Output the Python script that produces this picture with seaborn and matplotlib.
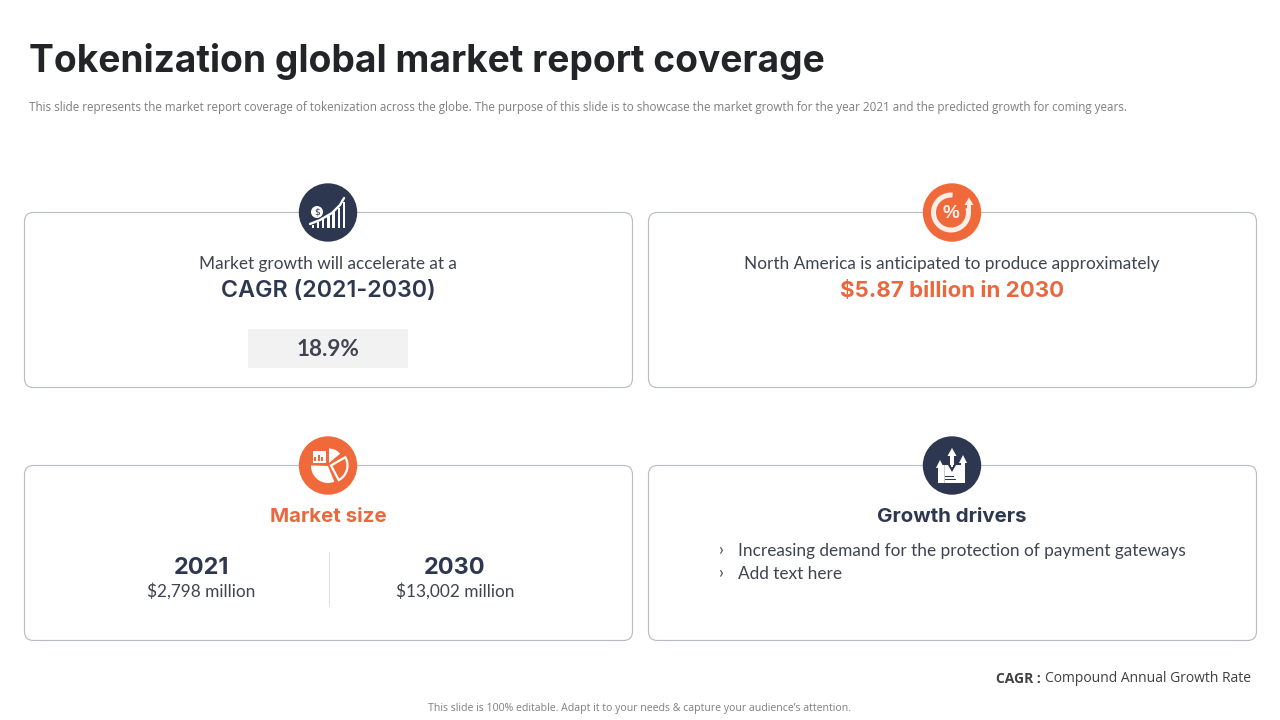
import matplotlib
matplotlib.use("Agg")
import matplotlib.pyplot as plt
from matplotlib.patches import FancyBboxPatch, Circle, Rectangle, Wedge, Polygon
import seaborn as sns

sns.set_theme(style="white")
plt.rcParams['font.family'] = ['Lato', 'DejaVu Sans']

NAVY = "#2D3850"
ORANGE = "#F0693A"
ORANGE_TXT = "#E8693F"
TXT = "#3F4450"
GREY = "#7F7F7F"
CREAM = "#FDEEE8"

title = "Tokenization global market report coverage"
subtitle = ("This slide represents the market report coverage of tokenization across the globe. "
            "The purpose of this slide is to showcase the market growth for the year 2021 and the predicted growth for coming years.")
growth_intro = "Market growth will accelerate at a"
growth_head = "CAGR (2021-2030)"
growth_value = "18.9%"
na_intro = "North America is anticipated to produce approximately"
na_head = "$5.87 billion in 2030"
size_head = "Market size"
years = ["2021", "2030"]
sizes = ["$2,798 million", "$13,002 million"]
drivers_head = "Growth drivers"
drivers = ["Increasing demand for the protection of payment gateways", "Add text here"]
foot_bold = "CAGR :"
foot_rest = "Compound Annual Growth Rate"
footer = "This slide is 100% editable. Adapt it to your needs & capture your audience\u2019s attention."
icon_bars = [3, 6, 9, 12, 16, 20, 26]

fig = plt.figure(figsize=(12.8, 7.2), dpi=100, facecolor="white")
ax = fig.add_axes([0, 0, 1, 1])
ax.set_xlim(0, 1280)
ax.set_ylim(720, 0)
ax.axis("off")

def txt(x, y, s, size, color=TXT, weight="normal", ha="center", family="Lato", **kw):
    return ax.text(x, y, s, fontsize=size * 0.72, color=color, fontweight=weight,
                   ha=ha, va="center", family=[family, "DejaVu Sans"], **kw)

# cards
for x, y in [(24.5, 212.5), (648.5, 212.5), (24.5, 465.5), (648.5, 465.5)]:
    ax.add_patch(FancyBboxPatch((x + 8, y + 8), 608 - 16, 175 - 16,
                                boxstyle="round,pad=8,rounding_size=9",
                                fc="white", ec="#BABDC1", lw=0.85, zorder=1))

# icon discs
centers = [(328, 212.5, NAVY), (952, 212.5, ORANGE), (328, 465.5, ORANGE), (952, 465.5, NAVY)]
for cx, cy, c in centers:
    ax.add_patch(Circle((cx, cy), 29.2, fc=c, ec="none", zorder=2))

# icon 1: growth bars
for i, h in enumerate(icon_bars):
    ax.add_patch(Rectangle((311.5 + i * 5.2, 228 - h), 2.5, h, fc="white", ec="none", zorder=3))
ax.plot([310, 320, 332, 340, 344], [224, 220, 213, 205, 198], color="white", lw=1.7, zorder=4)
ax.add_patch(Circle((317, 212), 6, fc="white", ec="none", zorder=4))
ax.text(317, 212, "$", fontsize=6.5, color=NAVY, ha="center", va="center", zorder=5, family="DejaVu Sans")

# icon 2: percent ring (y axis is inverted, so wedge angles run clockwise on screen)
ax.add_patch(Wedge((951, 212.5), 20, -15, 275, width=5, fc=CREAM, ec="none", zorder=3))
ax.add_patch(Polygon([(964.5, 205), (973.5, 205), (969, 197.5)], fc=CREAM, ec="none", zorder=3))
ax.add_patch(Rectangle((966.8, 204), 4.4, 7, fc=CREAM, ec="none", zorder=3))
ax.text(950.5, 213, "%", fontsize=13.5, fontweight="bold", color=CREAM, ha="center", va="center",
        family="Liberation Sans", zorder=4)

# icon 3: pie
ax.add_patch(Wedge((328, 466), 17, 68, 182, fc="white", ec="none", zorder=3))
ax.add_patch(Wedge((329, 463), 14.5, -90, -40, fc="white", ec="none", zorder=3))
ax.add_patch(Wedge((331, 465.5), 16.5, -30, 62, fc=ORANGE, ec="white", lw=1.6, zorder=4))
ax.add_patch(Rectangle((312.5, 450.5), 13, 12, fc="white", ec="none", zorder=5))
for i, h in enumerate([4, 6, 4]):
    ax.add_patch(Rectangle((314 + i * 3.6, 460.5 - h), 2.2, h, fc=ORANGE, ec="none", zorder=6))

# icon 4: box and arrows
ax.add_patch(Rectangle((938, 465), 27, 17.5, fc="white", ec="none", zorder=3))
ax.add_patch(Rectangle((944, 465), 0.9, 17.5, fc="#C9CDD4", ec="none", zorder=4))
for a_x, top, bot, w in [(952, 448, 470, 9), (940, 460, 482, 8), (963, 455, 466, 8)]:
    ax.add_patch(Polygon([(a_x - w / 2, top + 8), (a_x + w / 2, top + 8), (a_x, top)], fc="white", ec="none", zorder=4))
    ax.add_patch(Rectangle((a_x - 2.2, top + 7), 4.4, bot - top - 7, fc="white", ec="none", zorder=4))
ax.add_patch(Polygon([(948, 465), (956, 465), (952, 472)], fc=NAVY, ec="none", zorder=5))
ax.add_patch(Rectangle((950.6, 456), 2.8, 11, fc="white", ec="none", zorder=6))
ax.add_patch(Rectangle((945, 476), 9, 1.2, fc=NAVY, ec="none", zorder=5))
ax.add_patch(Rectangle((945, 479), 11, 1.2, fc=NAVY, ec="none", zorder=5))

# header
txt(29, 62, title, 37.15, color="#222428", weight="bold", ha="left", family="Inter")
txt(29, 107, subtitle, 11.68, color=GREY, ha="left", family="Open Sans")

# card 1
txt(328, 263.5, growth_intro, 17.3)
txt(328, 291, growth_head, 23.3, color=NAVY, weight="semibold", family="Inter")
ax.add_patch(Rectangle((248, 329), 160, 39, fc="#F2F2F2", ec="none", zorder=2))
txt(328, 349.5, growth_value, 22.5, color=TXT, weight="bold", zorder=3)

# card 2
txt(952, 263.5, na_intro, 17.3)
txt(952, 291, na_head, 22.3, color=ORANGE_TXT, weight="bold", family="Inter")

# card 3
txt(328, 516.5, size_head, 20.5, color=ORANGE_TXT, weight="bold", family="Inter")
for x, yr, sz in zip([201, 455], years, sizes):
    txt(x, 568, yr, 23.5, color=NAVY, weight="bold", family="Inter")
    txt(x, 591.5, sz, 17.2)
ax.plot([328.5, 328.5], [552, 606], color="#E2E2E2", lw=0.8, zorder=2)

# card 4
txt(952, 516.5, drivers_head, 20.5, color=NAVY, weight="bold", family="Inter")
for y, d in zip([551, 574], drivers):
    txt(719, y - 1, "\u203a", 17.3, ha="left")
    txt(737.5, y, d, 17.3, ha="left")

# footers
txt(1251, 679, foot_rest, 13.95, color="#404040", ha="right", family="Open Sans")
txt(1040.5, 679, foot_bold, 13.95, color="#404040", weight="bold", ha="right", family="Open Sans")
txt(640, 708.5, footer, 10.5, color=GREY, family="Open Sans")

fig.savefig("out.png", dpi=100, facecolor="white")
